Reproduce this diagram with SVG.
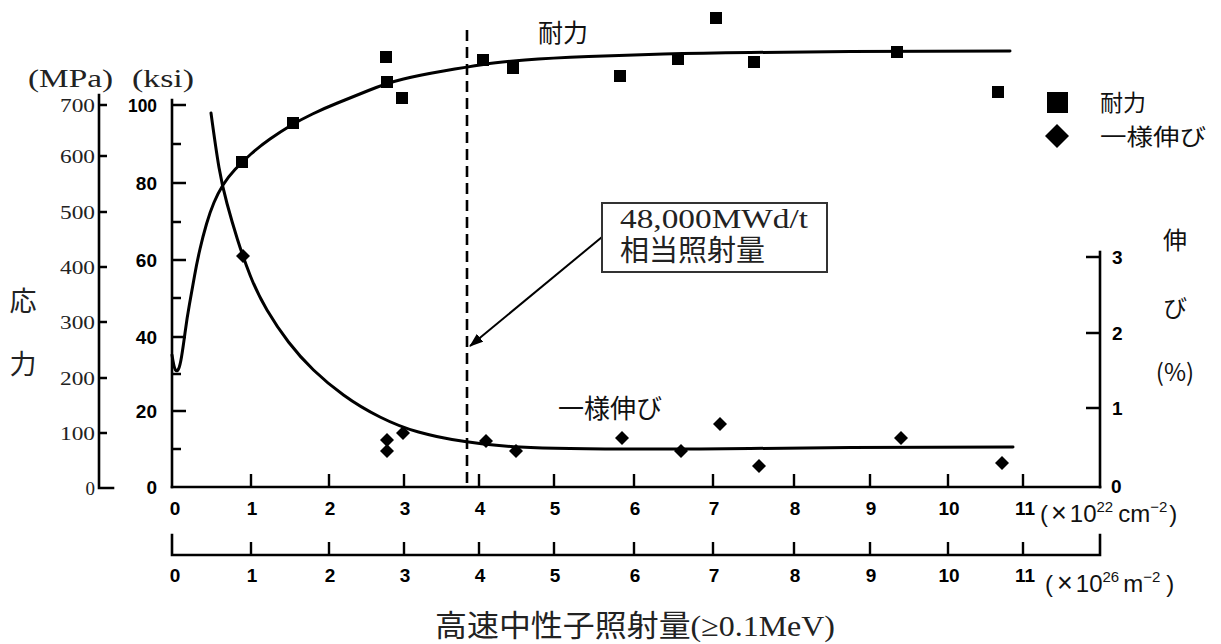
<svg xmlns="http://www.w3.org/2000/svg" width="1221" height="644" viewBox="0 0 1221 644">
<style>
.ax{stroke:#000;stroke-width:2.6;fill:none;stroke-linecap:square}
.tk{stroke:#000;stroke-width:2.4;fill:none}
.cv{stroke:#000;stroke-width:3;fill:none;stroke-linejoin:round;stroke-linecap:round}
.ser{font-family:"Liberation Serif","Noto Sans CJK JP",serif;fill:#222}
.num{font-family:"Liberation Sans Narrow","Liberation Sans",sans-serif;font-weight:bold;font-size:19px;fill:#000}
.jp{font-family:"Noto Sans CJK JP",sans-serif;fill:#111}
.sans{font-family:"Liberation Sans",Arial,sans-serif;fill:#111}
.sq{fill:#000}
</style>
<defs>
<marker id="arr" markerWidth="14" markerHeight="10" refX="13" refY="5" orient="auto" markerUnits="userSpaceOnUse">
<path d="M0,0 L14,5 L0,10 Z" fill="#000"/>
</marker>
<rect id="s" x="-6" y="-6" width="12" height="12"/>
<path id="d" d="M0,-7 L7,0 L0,7 L-7,0 Z"/>
</defs>

<g id="mpa-axis">
<path class="ax" d="M99,95 V488 H113"/>
<path class="tk" d="M99,105 H107 M99,156 H107 M99,212 H107 M99,267 H107 M99,322 H107 M99,378 H107 M99,433 H107"/>
<g class="ser" font-size="19" text-anchor="end">
<text x="95" y="112" textLength="35" lengthAdjust="spacingAndGlyphs">700</text>
<text x="95" y="163" textLength="35" lengthAdjust="spacingAndGlyphs">600</text>
<text x="95" y="219" textLength="35" lengthAdjust="spacingAndGlyphs">500</text>
<text x="95" y="274" textLength="35" lengthAdjust="spacingAndGlyphs">400</text>
<text x="95" y="329" textLength="35" lengthAdjust="spacingAndGlyphs">300</text>
<text x="95" y="385" textLength="35" lengthAdjust="spacingAndGlyphs">200</text>
<text x="95" y="440" textLength="35" lengthAdjust="spacingAndGlyphs">100</text>
<text x="95" y="495">0</text>
</g>
<text class="ser" x="28" y="87" font-size="26" textLength="85" lengthAdjust="spacingAndGlyphs">(MPa)</text>
<text class="ser" x="23" y="311" font-size="27" text-anchor="middle">応</text>
<text class="ser" x="23" y="374" font-size="27" text-anchor="middle">力</text>
</g>

<g id="ksi-axis">
<path class="ax" d="M172,100 V487"/>
<path class="tk" d="M172,105 H186 M172,183 H186 M172,260 H186 M172,337 H186 M172,411 H186 M172,144 H181 M172,222 H181 M172,298 H181 M172,374 H181 M172,449 H181"/>
<g class="num" text-anchor="end">
<text x="157" y="112" textLength="29" lengthAdjust="spacingAndGlyphs">100</text>
<text x="157" y="190">80</text>
<text x="157" y="267">60</text>
<text x="157" y="344">40</text>
<text x="157" y="418">20</text>
<text x="157" y="494">0</text>
</g>
<text class="ser" x="132" y="87" font-size="26" textLength="62" lengthAdjust="spacingAndGlyphs">(ksi)</text>
</g>

<g id="x-axis-cm">
<path class="ax" d="M172,487 H1100"/>
<path class="tk" d="M251,474 V487 M329,474 V487 M404,474 V487 M479,474 V487 M554,474 V487 M634,474 V487 M713,474 V487 M794,474 V487 M870,474 V487 M948,474 V487 M1023,474 V487"/>
<g class="num" text-anchor="middle">
<text x="175" y="515">0</text><text x="252" y="515">1</text><text x="330" y="515">2</text><text x="405" y="515">3</text><text x="480" y="515">4</text><text x="555" y="515">5</text><text x="635" y="515">6</text><text x="714" y="515">7</text><text x="795" y="515">8</text><text x="871" y="515">9</text><text x="949" y="515">10</text><text x="1025" y="515">11</text>
</g>
<text class="sans" x="1040" y="522" font-size="24">(<tspan dx="3" font-size="27">×</tspan><tspan dx="3">10</tspan><tspan font-size="15" dy="-10">22</tspan><tspan dy="10" dx="5">cm</tspan><tspan font-size="15" dy="-10">−2</tspan><tspan dy="10" dx="2">)</tspan></text>
</g>

<g id="x-axis-m">
<path class="ax" d="M172,535 V555 H1100 V535"/>
<path class="tk" d="M251,542 V555 M329,542 V555 M404,542 V555 M479,542 V555 M554,542 V555 M634,542 V555 M713,542 V555 M794,542 V555 M870,542 V555 M948,542 V555 M1023,542 V555"/>
<g class="num" text-anchor="middle">
<text x="175" y="582">0</text><text x="252" y="582">1</text><text x="330" y="582">2</text><text x="405" y="582">3</text><text x="480" y="582">4</text><text x="555" y="582">5</text><text x="635" y="582">6</text><text x="714" y="582">7</text><text x="795" y="582">8</text><text x="871" y="582">9</text><text x="949" y="582">10</text><text x="1025" y="582">11</text>
</g>
<text class="sans" x="1045" y="592" font-size="24">(<tspan dx="4" font-size="27">×</tspan><tspan dx="3">10</tspan><tspan font-size="15" dy="-10">26</tspan><tspan dy="10" dx="4">m</tspan><tspan font-size="15" dy="-10">−2</tspan><tspan dy="10" dx="6">)</tspan></text>
<text class="ser" x="435" y="636" font-size="30" textLength="400" lengthAdjust="spacingAndGlyphs">高速中性子照射量(≥0.1MeV)</text>
</g>

<g id="pct-axis">
<path class="ax" d="M1100,252 V487"/>
<path class="tk" d="M1086,257 H1100 M1086,333 H1100 M1086,408 H1100"/>
<g class="num" text-anchor="start">
<text x="1112" y="264">3</text>
<text x="1112" y="340">2</text>
<text x="1112" y="415">1</text>
<text x="1111" y="493">0</text>
</g>
<g class="jp" font-size="24" text-anchor="middle">
<text x="1175" y="249">伸</text>
<text x="1175" y="317">び</text>
<text x="1175" y="381">(%)</text>
</g>
</g>

<g id="connectors">
<path class="cv" d="M172,355 Q174,368 175.5,370 Q177,372 178.5,369 Q180,366 181.5,357 Q183,348 185,333 Q187,318 189.5,304 Q192,290 194.5,276 Q197,262 200,249 Q203,236 206.5,224 Q210,212 214,202.5 Q218,193 223,185 Q228,177 235,169.5 Q242,162 251,154 Q260,146 270,139 Q280,132 290,126 Q300,120 312.5,114 Q325,108 337.5,103 Q350,98 368.5,90.5 Q387,83 403.5,79 Q420,75 443.5,71 Q467,67 483.5,64.5 Q500,62 525,60 Q550,58 588.5,56.5 Q627,55 663.5,54 Q700,53 750,52.5 Q800,52 850,51.5 Q900,51 1010,51"/>
<path class="cv" d="M211,113 Q216,150 219,167.5 Q222,185 227,203.5 Q232,222 237.5,239.5 Q243,257 250,275 Q257,293 267,310 Q277,327 288.5,342 Q300,357 313.5,370 Q327,383 343.5,395 Q360,407 380,417 Q400,427 418.5,432 Q437,437 452,439.5 Q467,442 483.5,444 Q500,446 520,447 Q540,448 570,448.5 Q600,449 650,449 Q700,449 750,448.5 Q800,448 850,447.5 Q900,447 1013,447"/>
<line x1="467" y1="30" x2="467" y2="487" stroke="#000" stroke-width="2.6" stroke-dasharray="11,6"/>
<line x1="602" y1="237" x2="470" y2="346" stroke="#000" stroke-width="2" marker-end="url(#arr)"/>
</g>

<g id="strength-points" class="sq">
<use href="#s" x="242" y="162"/><use href="#s" x="293" y="123"/><use href="#s" x="386" y="57"/><use href="#s" x="387" y="82"/><use href="#s" x="402" y="98"/><use href="#s" x="483" y="60"/><use href="#s" x="513" y="68"/><use href="#s" x="620" y="76"/><use href="#s" x="678" y="59"/><use href="#s" x="716" y="18"/><use href="#s" x="754" y="62"/><use href="#s" x="897" y="52"/><use href="#s" x="998" y="92"/>
</g>

<g id="elongation-points" class="sq">
<use href="#d" x="243" y="256"/><use href="#d" x="387" y="440"/><use href="#d" x="387" y="451"/><use href="#d" x="403" y="433"/><use href="#d" x="486" y="441"/><use href="#d" x="516" y="451"/><use href="#d" x="622" y="438"/><use href="#d" x="681" y="451"/><use href="#d" x="720" y="424"/><use href="#d" x="759" y="466"/><use href="#d" x="901" y="438"/><use href="#d" x="1002" y="463"/>
</g>

<g id="label-strength">
<text class="jp" x="538" y="42" font-size="25">耐力</text>
</g>
<g id="label-elongation">
<text class="jp" x="558" y="418" font-size="26">一様伸び</text>
</g>

<g id="callout">
<rect x="602" y="203" width="225" height="69" fill="#fff" stroke="#333" stroke-width="2"/>
<text class="ser" x="620" y="228" font-size="27" textLength="188" lengthAdjust="spacingAndGlyphs">48,000MWd/t</text>
<text class="ser" x="620" y="261" font-size="29">相当照射量</text>
</g>

<g id="legend">
<rect x="1047" y="92" width="21" height="21" fill="#000"/>
<path d="M1057,124 L1069,136 L1057,148 L1045,136 Z" fill="#000"/>
<text class="jp" x="1100" y="111" font-size="23">耐力</text>
<text class="jp" x="1100" y="145" font-size="23" textLength="106" lengthAdjust="spacingAndGlyphs">一様伸び</text>
</g>
</svg>
